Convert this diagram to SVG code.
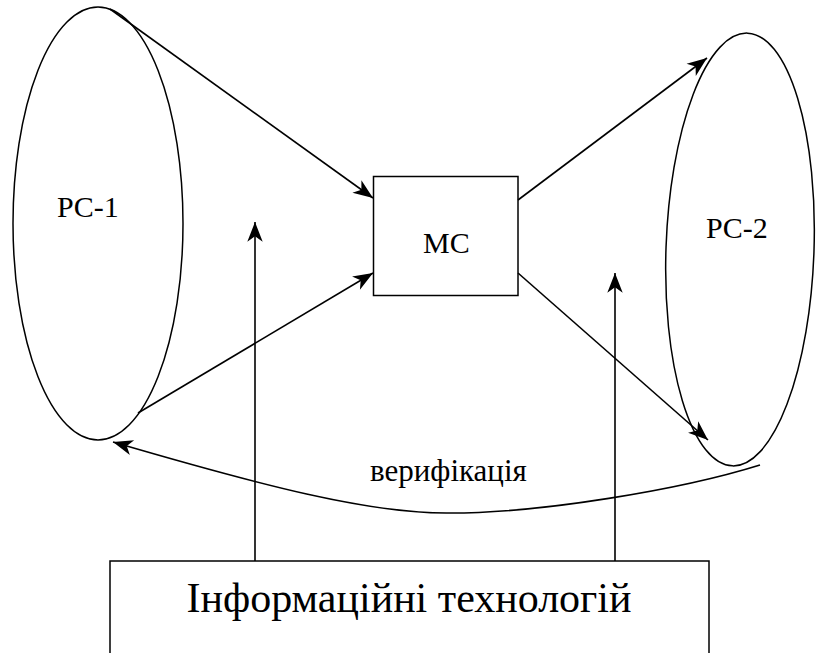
<svg xmlns="http://www.w3.org/2000/svg" width="820" height="653" viewBox="0 0 820 653">
  <style>
    .shape { fill: none; stroke: #000; stroke-width: 1.5; }
    .box { fill: #fff; stroke: #000; stroke-width: 1.5; }
    .link { fill: none; stroke: #000; stroke-width: 1.6; marker-end: url(#head); }
    .t { font-family: "Times New Roman", Tinos, "Liberation Serif", "DejaVu Serif", serif; fill: #000; }
  </style>
  <defs>
    <marker id="head" markerUnits="userSpaceOnUse" markerWidth="22" markerHeight="18" viewBox="-19 -8 20 16" refX="0" refY="0" orient="auto">
      <path d="M0,0 L-18,-7 L-13,0 L-18,7 Z" fill="#000"/>
    </marker>
  </defs>

  <rect width="820" height="653" fill="#fff"/>

  <g id="pc1">
    <ellipse class="shape" cx="98" cy="223.5" rx="85" ry="216.5"/>
    <text class="t" x="57" y="217" font-size="30">PC-1</text>
  </g>

  <g id="pc2">
    <ellipse class="shape" cx="740" cy="249.5" rx="74" ry="216.5" transform="rotate(2 740 249.5)"/>
    <text class="t" x="706" y="238" font-size="30">PC-2</text>
  </g>

  <g id="mc">
    <rect class="box" x="373.5" y="176.5" width="144.5" height="119"/>
    <text class="t" x="423" y="253" font-size="30">MC</text>
  </g>

  <g id="it">
    <rect class="box" x="110" y="561" width="599" height="110"/>
    <text class="t" x="409" y="612" font-size="42" text-anchor="middle">Інформаційні технологій</text>
  </g>

  <g id="connectors">
    <line class="link" x1="110" y1="9" x2="373" y2="198"/>
    <line class="link" x1="138" y1="413" x2="373" y2="273"/>
    <line class="link" x1="518" y1="200" x2="707" y2="58"/>
    <line class="link" x1="518" y1="273" x2="708" y2="440"/>
    <line class="link" x1="255" y1="561" x2="255" y2="222"/>
    <line class="link" x1="615" y1="561" x2="615" y2="273"/>
    <path class="link" d="M760,465 C680,490 540,513 450,513 C370,514 260,485 113,442"/>
    <text class="t" x="370" y="481" font-size="31">верифікація</text>
  </g>
</svg>
